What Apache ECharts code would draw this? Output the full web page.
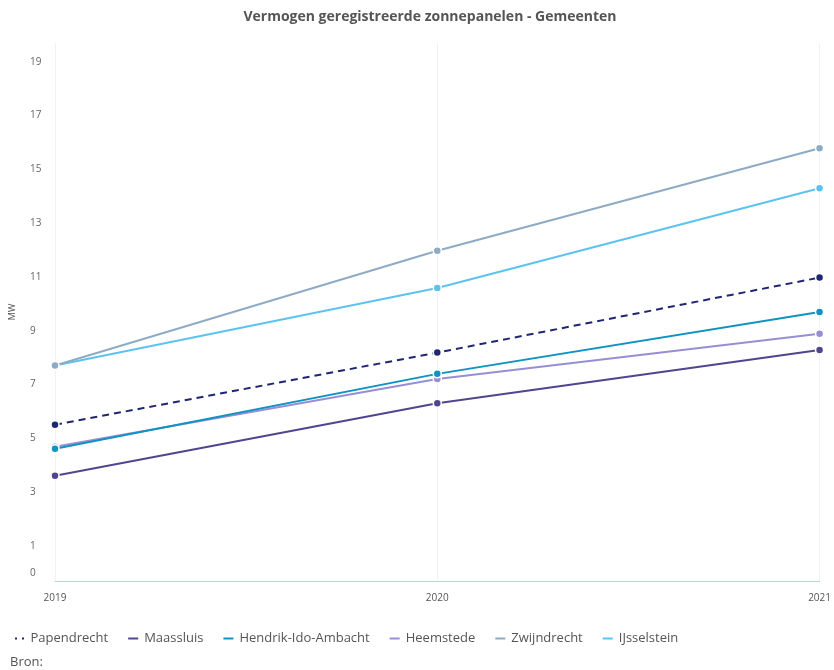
<!DOCTYPE html>
<html>
<head>
<meta charset="utf-8">
<script src="https://cdn.jsdelivr.net/npm/echarts@6/dist/echarts.min.js"></script>
<style>
html,body{margin:0;padding:0;background:#fff;}
#c{width:834px;height:670px;}
</style>
</head>
<body>
<div id="c"></div>
<script>
const years = ['2019', '2020', '2021'];
const yTicks = [0, 1, 3, 5, 7, 9, 11, 13, 15, 17, 19];
const seriesNames = ['Papendrecht', 'Maassluis', 'Hendrik-Ido-Ambacht', 'Heemstede', 'Zwijndrecht', 'IJsselstein'];
const papendrecht = [5.51, 8.19, 10.98];
const maassluis = [3.61, 6.31, 8.29];
const hendrikIdoAmbacht = [4.62, 7.40, 9.70];
const heemstede = [4.69, 7.21, 8.89];
const zwijndrecht = [7.71, 11.98, 15.79];
const ijsselstein = [7.71, 10.59, 14.30];

const values = [papendrecht, maassluis, hendrikIdoAmbacht, heemstede, zwijndrecht, ijsselstein];
const colors = ['#1f2672', '#51458f', '#0f93c2', '#978fd3', '#8dabc4', '#5cc3ef'];
const dashed = [true, false, false, false, false, false];

const font = '"Open Sans", "Noto Sans", sans-serif';
const chart = echarts.init(document.getElementById('c'));

const series = seriesNames.map((n, i) => ({
  name: n,
  type: 'line',
  data: values[i],
  symbol: 'circle',
  symbolSize: 8,
  z: 10 - i,
  lineStyle: { color: colors[i], width: 2, type: dashed[i] ? [7, 5] : 'solid' },
  itemStyle: { color: colors[i], borderColor: '#fff', borderWidth: 1.5 },
  emphasis: { disabled: true }
}));

const legendData = seriesNames.map((n, i) => ({
  name: n,
  icon: dashed[i] ? 'path://M0,0h4v4h-4z M7,0h4v4h-4z' : 'rect'
}));

chart.setOption({
  animation: false,
  backgroundColor: '#fff',
  color: colors,
  graphic: [{
    type: 'text',
    x: 430,
    y: 10,
    style: {
      text: 'Vermogen geregistreerde zonnepanelen - Gemeenten',
      align: 'center',
      fontFamily: font, fontSize: 14, fontWeight: 'bold', fill: '#555'
    }
  }, {
    type: 'text',
    left: 10,
    top: 656,
    style: { text: 'Bron:', fontFamily: font, fontSize: 13, fill: '#555' }
  }],
  grid: { left: 55, right: 14, top: 43, bottom: 89, containLabel: false },
  legend: {
    left: 8,
    top: 627,
    itemWidth: 12,
    itemHeight: 4,
    itemGap: 18,
    data: legendData,
    textStyle: { fontFamily: font, fontSize: 13, color: '#555' }
  },
  xAxis: {
    type: 'category',
    data: years,
    boundaryGap: false,
    axisLine: { onZero: false, lineStyle: { color: '#b9d3df', width: 1 } },
    axisTick: { show: false },
    axisLabel: { fontFamily: font, fontSize: 10, color: '#555', margin: 12 },
    splitLine: { show: true, lineStyle: { color: '#f2f2f2', width: 1 } }
  },
  yAxis: {
    type: 'value',
    min: -0.3,
    max: 19.7,
    name: 'MW',
    nameLocation: 'middle',
    nameRotate: 90,
    nameGap: 38,
    nameTextStyle: { fontFamily: font, fontSize: 9, color: '#555' },
    axisLine: { show: false },
    axisTick: { show: false },
    splitLine: { show: false },
    axisLabel: {
      customValues: yTicks,
      align: 'left',
      margin: 25,
      fontFamily: font,
      fontSize: 10,
      color: '#666'
    }
  },
  series: series
});
</script>
</body>
</html>
